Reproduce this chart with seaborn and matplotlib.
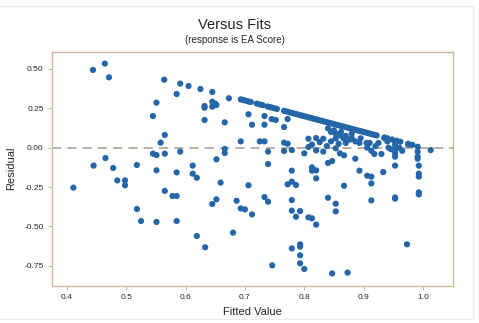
import numpy as np
import pandas as pd
import matplotlib
matplotlib.use("Agg")
import matplotlib.pyplot as plt
import seaborn as sns

# Residuals vs fitted values
fitted_scatter = [
    0.411, 0.444, 0.464, 0.471, 0.445, 0.465, 0.478, 0.485, 0.498, 0.498,
    0.518, 0.518, 0.525, 0.545, 0.551, 0.558, 0.565, 0.545, 0.551, 0.565,
    0.551, 0.551, 0.565, 0.564, 0.585, 0.591, 0.605, 0.591, 0.585, 0.578,
    0.585, 0.585, 0.612, 0.612, 0.619, 0.619, 0.625, 0.632, 0.632, 0.632,
    0.633, 0.645, 0.645, 0.645, 0.652, 0.650, 0.666, 0.652, 0.666, 0.666,
    0.659, 0.652, 0.645, 0.673, 0.680, 0.686, 0.693, 0.693, 0.700, 0.706,
    0.706, 0.712, 0.712, 0.725, 0.733, 0.733, 0.733, 0.733, 0.739, 0.739,
    0.739, 0.746, 0.745, 0.752, 0.766, 0.766, 0.766, 0.772, 0.772, 0.779,
    0.779, 0.772, 0.779, 0.786, 0.779, 0.779, 0.786, 0.793, 0.779, 0.793,
    0.793, 0.793, 0.793, 0.800, 0.800, 0.813, 0.813, 0.820, 0.820, 0.813,
    0.820, 0.807, 0.840, 0.840, 0.847, 0.847, 0.853, 0.853, 0.867, 0.867,
    0.873, 0.886, 0.893, 0.906, 0.913, 0.913, 0.913, 0.933, 0.953, 0.953,
    0.953, 0.973, 0.993, 0.993, 0.993, 0.993, 0.993, 1.013,
]
resid_scatter = [
    -0.254, 0.494, 0.534, 0.447, -0.114, -0.066, -0.129, -0.208, -0.208, -0.239,
    -0.110, -0.390, -0.466, 0.201, 0.286, 0.032, 0.081, -0.038, -0.047, -0.038,
    -0.144, -0.472, -0.275, 0.432, 0.341, 0.407, 0.392, -0.025, -0.157, -0.307,
    -0.307, -0.466, -0.114, -0.165, -0.191, -0.561, 0.373, 0.265, 0.254, 0.176,
    -0.633, 0.354, 0.292, 0.261, 0.271, 0.280, 0.161, -0.074, -0.008, -0.034,
    -0.222, -0.328, -0.358, 0.314, -0.540, -0.337, 0.040, -0.386, -0.392, -0.239,
    0.212, 0.146, -0.424, 0.040, 0.040, 0.201, 0.146, -0.314, -0.343, -0.025,
    -0.104, -0.748, 0.182, 0.176, 0.131, -0.021, 0.032, 0.025, 0.182, -0.015,
    -0.146, -0.233, -0.216, -0.237, -0.333, -0.400, -0.439, -0.403, -0.640, -0.614,
    -0.629, -0.684, -0.735, -0.771, -0.036, -0.125, -0.146, -0.195, -0.144, -0.449,
    -0.489, -0.443, -0.318, -0.097, -0.085, -0.799, -0.356, -0.405, -0.242, -0.049,
    -0.794, -0.070, -0.146, -0.178, -0.184, -0.227, -0.335, -0.155, -0.114, -0.316,
    -0.324, -0.614, -0.114, -0.165, -0.184, -0.284, -0.297, -0.015,
]

# points along the upper edge (response = 1)
fitted_edge = [
    0.693, 0.697, 0.701, 0.706, 0.710, 0.720, 0.726, 0.730, 0.738, 0.742,
    0.746, 0.750, 0.754, 0.766, 0.770, 0.774, 0.778, 0.782, 0.786, 0.790,
    0.794, 0.798, 0.802, 0.806, 0.810, 0.814, 0.818, 0.822, 0.826, 0.830,
    0.834, 0.838, 0.842, 0.846, 0.850, 0.854, 0.858, 0.862, 0.866, 0.870,
    0.874, 0.878, 0.882, 0.886, 0.890, 0.894, 0.898, 0.902, 0.906, 0.910,
    0.914, 0.918, 0.922, 0.935, 0.940, 0.948, 0.956, 0.962, 0.975, 0.982,
]
resid_edge = [
    0.307, 0.303, 0.299, 0.294, 0.290, 0.280, 0.274, 0.270, 0.262, 0.258,
    0.254, 0.250, 0.246, 0.234, 0.230, 0.226, 0.222, 0.218, 0.214, 0.210,
    0.206, 0.202, 0.198, 0.194, 0.190, 0.186, 0.182, 0.178, 0.174, 0.170,
    0.166, 0.162, 0.158, 0.154, 0.150, 0.146, 0.142, 0.138, 0.134, 0.130,
    0.126, 0.122, 0.118, 0.114, 0.110, 0.106, 0.102, 0.098, 0.094, 0.090,
    0.086, 0.082, 0.078, 0.065, 0.060, 0.052, 0.044, 0.038, 0.025, 0.018,
]

# dense cluster around zero at high fitted values
fitted_cluster = [
    0.807, 0.807, 0.813, 0.820, 0.820, 0.826, 0.832, 0.832, 0.838, 0.845,
    0.845, 0.853, 0.853, 0.858, 0.860, 0.860, 0.866, 0.870, 0.876, 0.880,
    0.886, 0.893, 0.906, 0.910, 0.913, 0.918, 0.920, 0.925, 0.930, 0.935,
    0.940, 0.942, 0.946, 0.953, 0.953, 0.953, 0.953, 0.953, 0.960, 0.965,
    0.975, 0.991, 0.991, 0.991, 0.991, 0.840, 0.853, 0.862, 0.870, 0.880,
    0.895, 0.905, 0.850,
]
resid_cluster = [
    0.057, 0.004, 0.020, 0.061, -0.017, 0.035, 0.057, -0.025, 0.010, 0.100,
    0.040, 0.059, -0.004, 0.025, 0.080, -0.036, 0.060, 0.030, 0.050, 0.090,
    0.040, 0.030, 0.000, 0.030, -0.020, -0.040, 0.010, 0.030, -0.040, 0.060,
    0.040, 0.000, -0.010, 0.038, 0.017, -0.015, -0.036, -0.057, 0.000, -0.020,
    0.020, 0.006, -0.025, -0.057, -0.070, 0.123, 0.090, 0.100, 0.075, 0.060,
    0.060, 0.030, 0.110,
]

df = pd.DataFrame({
    "fitted": fitted_scatter + fitted_edge + fitted_cluster,
    "resid": resid_scatter + resid_edge + resid_cluster,
})

sns.set_style("white")
plt.rcParams["font.family"] = ["Liberation Sans", "DejaVu Sans"]

frame = "#c9bd98"
dot = "#2466a8"
txt = "#262626"

fig = plt.figure(figsize=(4.79, 3.23), dpi=100)
ax = fig.add_axes([0.1086, 0.1155, 0.8364, 0.7245])

sns.scatterplot(data=df, x="fitted", y="resid", ax=ax, s=20,
                color=dot, edgecolor="none", linewidth=0)
ax.axhline(0, color="#a29c8c", lw=1.1, ls=(0, (6, 4)), zorder=0)

ax.set_xlim(0.375, 1.05)
ax.set_ylim(-0.877, 0.61)
ax.set_xticks([0.4, 0.5, 0.6, 0.7, 0.8, 0.9, 1.0])
ax.set_yticks([0.5, 0.25, 0.0, -0.25, -0.5, -0.75])
ax.set_xticklabels(["0.4", "0.5", "0.6", "0.7", "0.8", "0.9", "1.0"])
ax.set_yticklabels(["0.50", "0.25", "0.00", "-0.25", "-0.50", "-0.75"])
ax.tick_params(axis="both", which="both", direction="out", length=3, width=0.8,
               color=frame, labelsize=6, labelcolor=txt, pad=3,
               bottom=True, left=True)
for sp in ax.spines.values():
    sp.set_color(frame)
    sp.set_linewidth(1.0)

ax.set_xlabel("Fitted Value", fontsize=8, color=txt, labelpad=4)
ax.set_ylabel("Residual", fontsize=8, color=txt, labelpad=6)

fig.text(235 / 479, 1 - 25 / 323, "Versus Fits", ha="center", va="center",
         fontsize=10.5, color=txt)
fig.text(235 / 479, 1 - 40 / 323, "(response is EA Score)", ha="center",
         va="center", fontsize=7, color=txt)

# faint page edge seen in the reference scan
fig.add_artist(plt.Rectangle((-0.01, 0.012), 0.997, 0.97, transform=fig.transFigure,
                             fill=False, edgecolor="#ececec", lw=1.0))

fig.savefig("out.png", dpi=100, facecolor="white")
